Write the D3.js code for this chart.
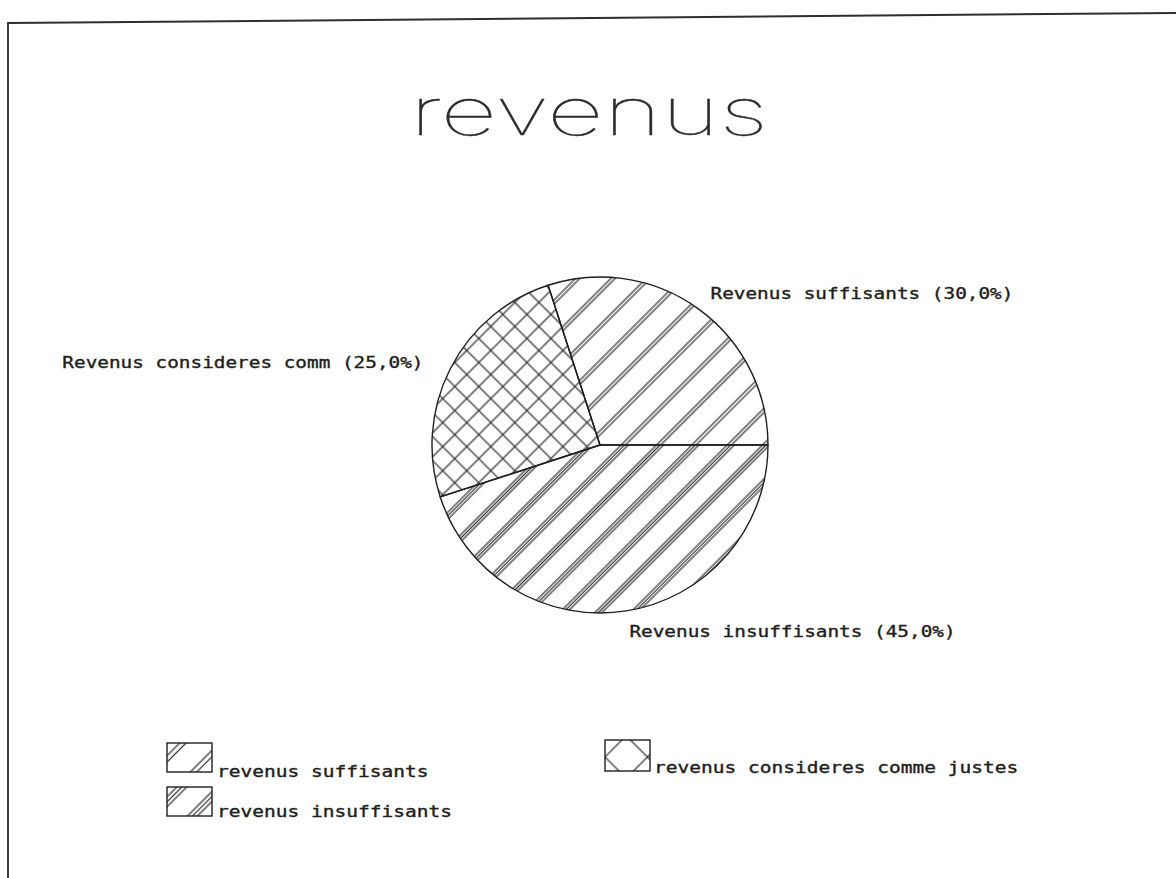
<!DOCTYPE html>
<html>
<head>
<meta charset="utf-8">
<script src="https://cdn.jsdelivr.net/npm/d3@7/dist/d3.min.js"></script>
<style>
  html, body { margin: 0; padding: 0; background: #fff; }
  svg { display: block; }
</style>
</head>
<body>
<script>
// Chart content
const chartTitle = "revenus";
const legendNames = ["revenus suffisants", "revenus insuffisants", "revenus consideres comme justes"];
const sliceNames = ["Revenus suffisants", "Revenus insuffisants", "Revenus consideres comm"];
const shares = [30, 45, 25];
const hatchIds = ["hatch-single", "hatch-triple", "hatch-cross"];

const W = 1176, H = 878;
const cx = 600, cy = 445, R = 168;
const ink = "#1e1e1e";
const hatchInk = "#2a2a2a";
const charW = 11.65;

const svg = d3.select("body").append("svg")
  .attr("width", W).attr("height", H);

const defs = svg.append("defs");

// Diagonal "/" hatch: vertical strokes in a tile rotated by 45 degrees
function lineHatch(id, period, offsets, transform) {
  const p = defs.append("pattern")
    .attr("id", id)
    .attr("patternUnits", "userSpaceOnUse")
    .attr("width", period).attr("height", period)
    .attr("patternTransform", transform);
  offsets.forEach(o => {
    p.append("line")
      .attr("x1", o).attr("x2", o).attr("y1", -1).attr("y2", period + 1)
      .attr("stroke", hatchInk).attr("stroke-width", 1.2);
  });
}
function crossHatch(id, period, offset, transform) {
  const p = defs.append("pattern")
    .attr("id", id)
    .attr("patternUnits", "userSpaceOnUse")
    .attr("width", period).attr("height", period)
    .attr("patternTransform", transform);
  p.append("line").attr("x1", offset).attr("x2", offset).attr("y1", -1).attr("y2", period + 1)
    .attr("stroke", hatchInk).attr("stroke-width", 1.2);
  p.append("line").attr("y1", offset).attr("y2", offset).attr("x1", -1).attr("x2", period + 1)
    .attr("stroke", hatchInk).attr("stroke-width", 1.2);
}

// Patterns used inside the pie
lineHatch("hatch-single", 25, [1, 4], `translate(${cx},${cy}) rotate(45)`);
lineHatch("hatch-triple", 25, [1, 3.5, 6], `translate(${cx},${cy}) rotate(45)`);
crossHatch("hatch-cross", 17, 1, `translate(${cx},${cy}) rotate(45)`);

// Frame
svg.append("line").attr("x1", 8).attr("y1", 23).attr("x2", W).attr("y2", 13)
  .attr("stroke", "#2e2e2e").attr("stroke-width", 2);
svg.append("line").attr("x1", 8).attr("y1", 22).attr("x2", 8).attr("y2", H)
  .attr("stroke", "#3a3a3a").attr("stroke-width", 2);

// Title
svg.append("text")
  .attr("x", 410).attr("y", 135)
  .attr("textLength", 358).attr("lengthAdjust", "spacingAndGlyphs")
  .attr("font-family", "Inter, Roboto, Lato, 'DejaVu Sans', sans-serif")
  .attr("font-weight", 100)
  .attr("font-size", 66)
  .attr("fill", "#2a2a2a")
  .attr("stroke", "#2a2a2a").attr("stroke-width", 0.3)
  .text(chartTitle);

// Pie
const total = d3.sum(shares);
const pie = d3.pie().sort(null)
  .startAngle(Math.PI / 2 - 2 * Math.PI * shares[0] / total)
  .endAngle(Math.PI / 2 - 2 * Math.PI * shares[0] / total + 2 * Math.PI);
const arcs = pie(shares);
const arc = d3.arc().innerRadius(0).outerRadius(R);

const g = svg.append("g").attr("transform", `translate(${cx},${cy})`);
g.selectAll("path.slice").data(arcs).join("path")
  .attr("class", "slice")
  .attr("d", arc)
  .attr("fill", (d, i) => `url(#${hatchIds[i]})`)
  .attr("stroke", ink).attr("stroke-width", 1.4)
  .attr("stroke-linejoin", "round");

// Slice labels
const pct = v => d3.format(".1f")(v).replace(".", ",");
const labelR = 188;
g.selectAll("text.label").data(arcs).join("text")
  .attr("class", "label")
  .each(function(d, i) {
    const a = (d.startAngle + d.endAngle) / 2;
    const x = labelR * Math.sin(a), y = -labelR * Math.cos(a);
    const left = Math.sin(a) < -0.2;
    const txt = `${sliceNames[i]} (${pct(shares[i] / total * 100)}%)`;
    d3.select(this)
      .attr("x", left ? x - 9 : x)
      .attr("y", y + (left ? 3 : 1))
      .attr("dy", "0.36em")
      .attr("text-anchor", left ? "end" : "start")
      .attr("textLength", txt.length * charW)
      .attr("lengthAdjust", "spacingAndGlyphs")
      .text(txt);
  })
  .attr("font-family", "'DejaVu Sans Mono', 'Liberation Mono', monospace")
  .attr("font-size", 15)
  .attr("fill", "#1e1e1e")
  .attr("stroke", "#1e1e1e").attr("stroke-width", 0.35);

// Legend patterns, anchored to each swatch
const legendItems = [
  { x: 167, y: 743, w: 45, h: 29, tx: 217, ty: 777 },
  { x: 167, y: 787, w: 45, h: 29, tx: 217, ty: 817 },
  { x: 605, y: 740, w: 45, h: 31, tx: 654, ty: 773 }
];
lineHatch("leg-single", 28, [9, 13.5], `translate(${legendItems[0].x},${legendItems[0].y}) rotate(45)`);
lineHatch("leg-triple", 28, [7, 10.5, 14], `translate(${legendItems[1].x},${legendItems[1].y}) rotate(45)`);
crossHatch("leg-cross", 30, 12, `translate(${legendItems[2].x},${legendItems[2].y}) rotate(45)`);
const legendFills = ["leg-single", "leg-triple", "leg-cross"];

const leg = svg.append("g");
legendItems.forEach((p, i) => {
  leg.append("rect")
    .attr("x", p.x).attr("y", p.y).attr("width", p.w).attr("height", p.h)
    .attr("fill", `url(#${legendFills[i]})`)
    .attr("stroke", ink).attr("stroke-width", 1.4);
  leg.append("text")
    .attr("x", p.tx).attr("y", p.ty)
    .attr("textLength", legendNames[i].length * 11.75)
    .attr("lengthAdjust", "spacingAndGlyphs")
    .attr("font-family", "'DejaVu Sans Mono', 'Liberation Mono', monospace")
    .attr("font-size", 15)
    .attr("fill", "#1e1e1e")
    .attr("stroke", "#1e1e1e").attr("stroke-width", 0.35)
    .text(legendNames[i]);
});
</script>
</body>
</html>
